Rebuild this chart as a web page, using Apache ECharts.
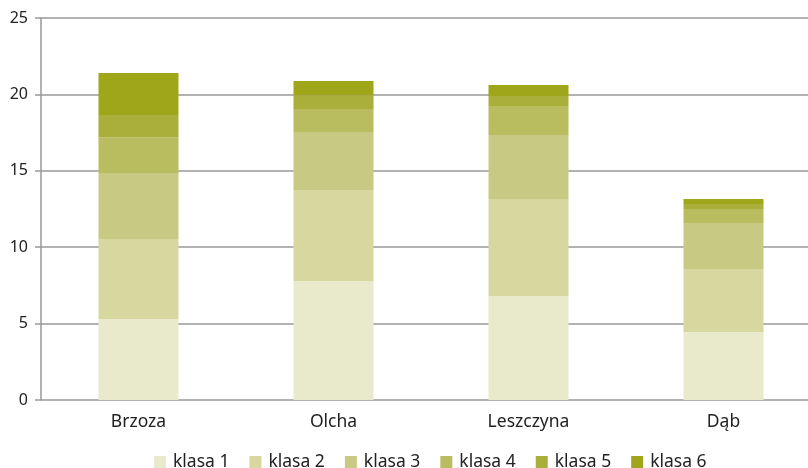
<!DOCTYPE html>
<html><head><meta charset="utf-8">
<script src="https://cdn.jsdelivr.net/npm/echarts@6/dist/echarts.min.js"></script>
<style>html,body{margin:0;padding:0;background:#fff;overflow:hidden;width:808px;height:468px}#c{width:822px;height:468px}</style>
</head><body><div id="c"></div>
<script>
const categories = ['Brzoza', 'Olcha', 'Leszczyna', 'Dąb'];
const seriesNames = ['klasa 1', 'klasa 2', 'klasa 3', 'klasa 4', 'klasa 5', 'klasa 6'];
const klasa1 = [5.3, 7.79, 6.81, 4.45];
const klasa2 = [5.24, 5.95, 6.34, 4.12];
const klasa3 = [4.26, 3.75, 4.19, 3.01];
const klasa4 = [2.4, 1.55, 1.9, 0.92];
const klasa5 = [1.45, 0.88, 0.66, 0.33];
const klasa6 = [2.75, 0.96, 0.72, 0.32];
const yTicks = [0, 5, 10, 15, 20, 25];
const colors = ['#e9eacc', '#d7d8a0', '#c8ca84', '#b9bc5f', '#aaae3a', '#a0a619'];
const values = [klasa1, klasa2, klasa3, klasa4, klasa5, klasa6];
const font = 'Noto Sans';
const chart = echarts.init(document.getElementById('c'));
chart.setOption({
  animation: false,
  color: colors,
  grid: { left: 41, width: 780, top: 18, height: 382, containLabel: false },
  legend: {
    left: 149, top: 448, itemWidth: 12, itemHeight: 12, itemGap: 20, icon: 'rect',
    textStyle: { fontFamily: font, fontSize: 17.5, color: '#222', padding: [0, 0, 0, 2] },
    data: seriesNames
  },
  xAxis: {
    type: 'category', data: categories,
    axisLine: { show: false }, axisTick: { show: false },
    axisLabel: { fontFamily: font, fontSize: 17.5, color: '#222', margin: 13 }
  },
  yAxis: {
    type: 'value', min: yTicks[0], max: yTicks[yTicks.length - 1], interval: 5,
    axisLine: { show: true, lineStyle: { color: '#999', width: 1.5 } },
    axisTick: { show: true, length: 6, lineStyle: { color: '#999', width: 1.5 } },
    splitLine: { lineStyle: { color: '#999', width: 1.5 } },
    axisLabel: { fontFamily: font, fontSize: 16, color: '#222', margin: 13 }
  },
  series: seriesNames.map((n, i) => ({
    name: n, type: 'bar', stack: 'a', barWidth: 80, data: values[i],
    itemStyle: { color: colors[i] }
  }))
});
</script></body></html>
